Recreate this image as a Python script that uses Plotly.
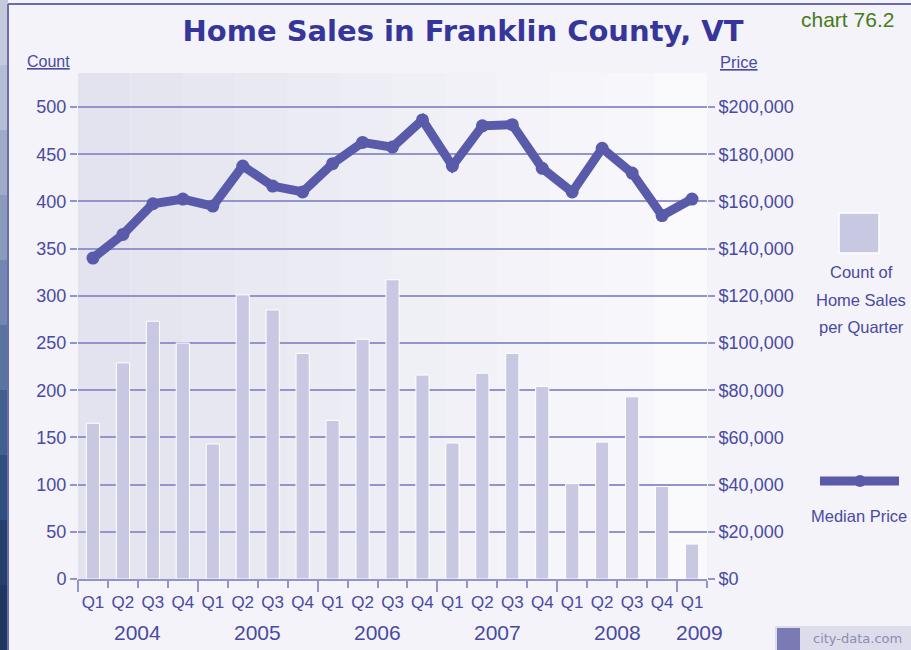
import plotly.graph_objects as go

# data
quarters = ["Q1", "Q2", "Q3", "Q4"] * 5 + ["Q1"]
years = ["2004", "2005", "2006", "2007", "2008", "2009"]
counts = [165, 229, 273, 250, 143, 301, 285, 239, 168, 254, 317,
          216, 144, 218, 239, 204, 101, 145, 193, 98, 37]
prices = [136000, 146000, 159000, 161000, 158000, 175000, 166500, 164000,
          176000, 185000, 183000, 194500, 175000, 192000, 192500, 174000,
          164000, 182500, 172000, 154000, 161000]
price_ticks = [0, 20000, 40000, 60000, 80000, 100000, 120000, 140000,
               160000, 180000, 200000]

idx = list(range(len(quarters)))
year_centers = [1.5, 5.5, 9.5, 13.5, 17.5, 20.25]
year_bounds = [-0.5, 3.5, 7.5, 11.5, 15.5, 19.5]

# colours
TXT = "#4a4aa2"
TITLE = "#36369a"
GRID = "#9494cc"
LINE = "#5a5aaa"
BAR = "#c8c8e3"
PAPER = "#f3f3f9"
FONT = "Liberation Sans, Arial, sans-serif"

# plot area in pixels (for placing decorations)
L, R, T, B = 78, 707, 73, 579


def px(x):
    return (x - L) / (R - L)


def py(y):
    return (B - y) / (B - T)


def label(text, x, y, size=15, color=TXT, family=FONT):
    return dict(text=text, x=px(x), y=py(y), xref="paper", yref="paper",
                xanchor="center", yanchor="middle", showarrow=False,
                font=dict(family=family, size=size, color=color))


fig = go.Figure()

fig.add_trace(go.Bar(
    x=idx, y=counts, width=0.44,
    marker=dict(color=BAR, line=dict(color="white", width=1)),
    showlegend=False, name="Count of Home Sales per Quarter"
))

fig.add_trace(go.Scatter(
    x=idx, y=prices, xaxis="x2", yaxis="y2",
    mode="lines+markers",
    line=dict(color=LINE, width=9),
    marker=dict(color=LINE, size=13),
    showlegend=False, name="Median Price"
))

shapes = []
# banded background of the plot area (light gradient left -> right)
n_bands = 12
for i in range(n_bands):
    t = i / (n_bands - 1)
    r = int(0xe3 + (0xfa - 0xe3) * t)
    g = int(0xe3 + (0xfa - 0xe3) * t)
    b = int(0xef + (0xfd - 0xef) * t)
    shapes.append(dict(type="rect", xref="paper", yref="paper",
                       x0=i / n_bands, x1=(i + 1) / n_bands, y0=0, y1=1,
                       fillcolor=f"rgb({r},{g},{b})", line=dict(width=0),
                       layer="below"))

# photo strip on the far left
strip = ["#c4cadc", "#b3bdd3", "#9eacc8", "#8a9cbe", "#7186b0",
         "#5a74a2", "#40608e", "#2f4f80", "#243f6c", "#1f365e"]
for i, c in enumerate(strip):
    shapes.append(dict(type="rect", xref="paper", yref="paper",
                       x0=px(0), x1=px(8),
                       y0=py(i * 65), y1=py((i + 1) * 65),
                       fillcolor=c, line=dict(width=0), layer="below"))
# frame lines
shapes.append(dict(type="line", xref="paper", yref="paper",
                   x0=px(8), x1=px(8), y0=py(4), y1=py(650),
                   line=dict(color="#6c6cab", width=2)))
shapes.append(dict(type="line", xref="paper", yref="paper",
                   x0=px(8), x1=px(911), y0=py(4), y1=py(4),
                   line=dict(color="#6c6cab", width=2)))

# custom legend
shapes.append(dict(type="rect", xref="paper", yref="paper",
                   x0=px(839), x1=px(879), y0=py(253), y1=py(213),
                   fillcolor=BAR, line=dict(color="white", width=1.5)))
shapes.append(dict(type="line", xref="paper", yref="paper",
                   x0=px(820), x1=px(899), y0=py(481), y1=py(481),
                   line=dict(color=LINE, width=9)))
shapes.append(dict(type="circle", xref="paper", yref="paper",
                   x0=px(854), x1=px(866), y0=py(487), y1=py(475),
                   fillcolor=LINE, line=dict(width=0)))

# city-data logo box
shapes.append(dict(type="rect", xref="paper", yref="paper",
                   x0=px(775), x1=px(911), y0=py(650), y1=py(626),
                   fillcolor="#dcdcea", line=dict(width=0)))
shapes.append(dict(type="rect", xref="paper", yref="paper",
                   x0=px(777), x1=px(800), y0=py(650), y1=py(628),
                   fillcolor="#7a7ab4", line=dict(width=0)))

annotations = []
for yr, xc in zip(years, year_centers):
    annotations.append(dict(text=yr, x=xc, xref="x", y=py(632), yref="paper",
                            xanchor="center", yanchor="middle", showarrow=False,
                            font=dict(family=FONT, size=21, color=TXT)))

for txt, yy in [("Count of", 272), ("Home Sales", 300), ("per Quarter", 327)]:
    annotations.append(label(txt, 861, yy, size=16.5))
annotations.append(label("Median Price", 859, 516, size=16.5))
annotations.append(label("<u>Count</u>", 48, 62, size=16))
annotations.append(label("<u>Price</u>", 739, 62, size=16.5))
annotations.append(label("chart 76.2", 847, 20, size=21, color="#4a7a1c"))
annotations.append(label("city-data.com", 857, 638, size=13, color="#8c8cb0",
                         family="DejaVu Sans"))

fig.update_layout(
    width=911, height=650,
    paper_bgcolor=PAPER, plot_bgcolor=PAPER,
    margin=dict(l=L, r=911 - R, t=T, b=650 - B),
    title=dict(text="<b>Home Sales in Franklin County, VT</b>",
               x=463 / 911, xanchor="center", y=1 - 31 / 650, yanchor="middle",
               font=dict(family="DejaVu Sans, Verdana, sans-serif", size=29, color=TITLE)),
    xaxis=dict(range=[-0.5, 20.5], tickmode="array", tickvals=idx, ticktext=quarters,
               ticks="", showgrid=False, zeroline=False,
               showline=True, linecolor=GRID, linewidth=2,
               ticklabelstandoff=7,
               tickfont=dict(family=FONT, size=17, color=TXT),
               minor=dict(tickmode="array", tickvals=[i - 0.5 for i in range(22)],
                          ticks="outside", ticklen=7, tickcolor=GRID, tickwidth=1.5)),
    xaxis2=dict(range=[-0.5, 20.5], overlaying="x", anchor="y", side="bottom",
                tickmode="array", tickvals=year_bounds, ticks="outside", ticklen=12,
                tickcolor=GRID, tickwidth=1.5, showticklabels=False,
                showgrid=False, zeroline=False, showline=False),
    yaxis=dict(range=[0, 536], tick0=0, dtick=50, showgrid=True,
               gridcolor=GRID, gridwidth=1.5, zeroline=False, showline=False,
               ticks="outside", ticklen=7, tickcolor=GRID, tickwidth=1.5,
               tickfont=dict(family=FONT, size=18, color=TXT)),
    yaxis2=dict(range=[0, 214400], overlaying="y", side="right", anchor="x",
                tickmode="array", tickvals=price_ticks,
                ticktext=[f"${v:,}" for v in price_ticks],
                showgrid=False, zeroline=False, showline=False,
                ticks="outside", ticklen=7, tickcolor=GRID, tickwidth=1.5,
                tickfont=dict(family=FONT, size=18, color=TXT)),
    shapes=shapes,
    annotations=annotations,
)

fig.write_html("out.html", config={"displayModeBar": False},
               post_script="document.body.style.margin='0';")
